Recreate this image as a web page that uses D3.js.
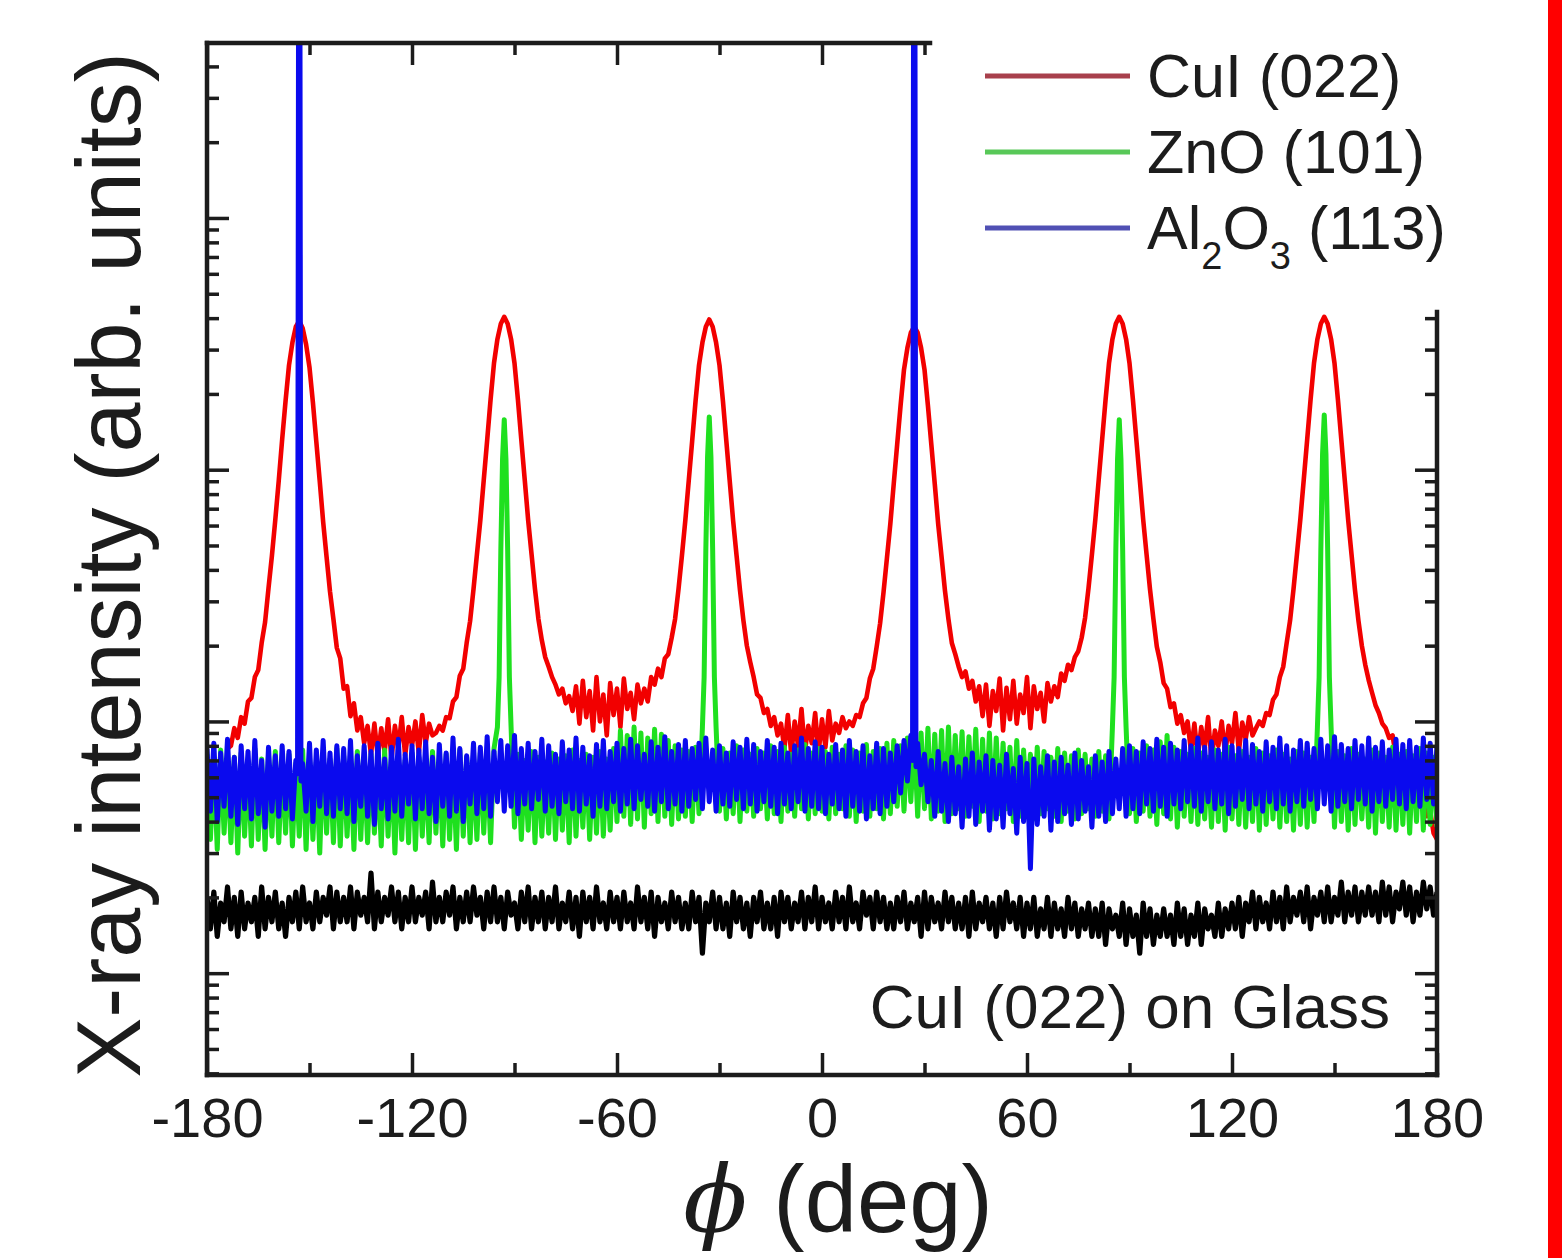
<!DOCTYPE html>
<html>
<head>
<meta charset="utf-8">
<script src="https://cdn.jsdelivr.net/npm/d3@7"></script>
<style>
  body { margin: 0; background: #fff; }
  svg { display: block; font-family: 'Liberation Sans', Arial, sans-serif; }
</style>
</head>
<body>
<svg width="1562" height="1258"></svg>
<script>
// phi scans, 1 deg step, intensities
const phiStart = -180;

// CuI (022) on glass
const glass = [
  20,15,21,14,19,16,22,15,20,14,21,15,19,16,20,14,22,15,20,16,
  21,15,19,14,20,16,21,15,22,16,19,15,21,16,20,17,22,15,21,16,
  20,16,22,15,21,17,20,16,25,15,21,16,20,17,22,16,21,15,20,16,
  22,16,20,17,21,15,23,16,20,16,21,17,22,15,20,16,21,16,22,17,
  20,15,21,16,22,16,20,15,21,17,19,15,21,16,22,15,20,16,21,15,
  20,16,22,15,19,16,21,15,20,14,21,16,20,15,22,16,19,15,21,16,
  20,15,21,16,19,15,22,16,20,15,21,14,20,16,19,15,21,16,20,15,
  19,15,21,16,20,12,19,16,21,15,20,15,19,14,21,16,20,15,19,14,
  20,16,21,15,19,15,20,14,21,16,20,15,19,16,21,15,20,16,22,15,
  20,16,19,15,21,16,20,15,22,16,19,15,21,17,20,15,21,16,20,15,
  19,15,20,16,21,15,19,16,20,14,21,15,20,16,19,15,21,16,20,15,
  19,15,20,14,21,15,19,16,20,15,19,14,20,15,21,16,19,15,20,14,
  19,15,20,14,18,15,20,14,19,15,18,14,20,15,19,14,18,15,19,14,
  18,14,19,13,18,15,17,14,19,13,18,14,17,12,19,14,18,13,17,14,
  18,14,17,13,19,14,18,13,17,14,19,13,18,15,17,14,19,14,18,15,
  19,15,20,14,19,16,21,15,20,16,19,15,21,16,20,15,22,16,20,17,
  21,16,22,15,20,17,21,16,22,16,20,17,23,16,21,17,22,16,21,17,
  22,17,21,16,23,17,22,16,21,18,23,17,22,16,21,17,23,18,22,17,
  21
];

// Al2O3 (113) substrate
const al2o3 = [
  78,44,82,40,75,46,85,42,72,39,80,45,76,41,84,43,70,38,79,44,
  73,42,80,45,76,41,70,1e7,68,44,82,40,77,46,84,43,75,42,80,45,
  78,43,84,40,73,46,80,42,76,39,82,45,71,41,79,44,85,42,74,47,
  80,41,77,45,83,43,72,40,81,46,75,42,86,44,78,40,73,47,82,43,
  79,45,87,42,76,48,84,44,80,46,88,43,78,47,82,45,76,49,85,44,
  80,46,74,43,83,48,77,45,86,44,79,47,73,42,81,46,84,45,76,48,
  82,44,78,47,85,45,80,49,74,46,83,44,79,48,87,45,76,47,81,44,
  84,46,78,49,82,45,86,48,77,44,80,47,75,46,83,49,79,45,85,47,
  81,44,76,48,84,46,79,43,82,47,75,45,80,48,86,44,78,46,83,45,
  79,43,74,47,81,45,77,42,84,46,76,44,80,41,73,45,82,43,78,46,
  75,48,80,52,84,58,88,1e7,82,56,74,48,70,42,76,44,68,40,72,43,
  66,38,71,42,75,39,69,44,73,37,70,41,67,38,74,43,65,36,72,40,
  68,26,71,39,66,42,73,37,69,40,72,43,67,39,75,41,70,44,66,38,
  73,42,69,40,76,43,71,45,78,42,80,45,76,43,83,47,78,44,85,46,
  79,42,82,47,77,45,84,48,80,46,86,44,79,48,83,45,77,47,85,43,
  80,46,78,49,84,45,81,47,76,44,83,48,79,45,86,47,80,44,77,48,
  84,46,82,49,78,45,85,47,80,44,87,46,81,48,78,45,84,49,80,47,
  86,44,79,48,83,46,77,49,85,47,81,45,84,48,79,46,86,49,82,47,
  80
];
// half-degree points beside the two sharp substrate reflections
const al2o3PeakPoints = [[-153.5, 62], [-152.5, 58], [26.5, 70], [27.5, 66]];

// ZnO (101)
const zno = [
  74,34,70,31,77,36,68,33,72,30,75,35,69,32,78,34,71,31,73,35,
  76,33,70,36,74,32,68,35,77,31,72,34,69,30,75,36,71,33,78,32,
  73,35,69,31,76,34,70,33,74,36,68,32,77,35,71,30,73,34,70,33,
  75,31,72,35,68,33,76,36,71,32,74,34,69,31,77,35,72,33,70,34,
  75,36,71,33,78,95,480,1580,480,95,38,74,34,70,37,76,33,72,35,69,
  36,75,34,71,37,73,33,77,35,70,38,74,34,72,36,76,35,71,37,78,
  40,92,42,88,39,95,41,90,38,86,43,93,40,89,42,84,39,80,41,77,
  42,76,40,79,43,95,480,1620,480,95,44,78,41,75,43,80,40,77,44,74,
  42,78,45,75,41,80,43,76,40,79,44,74,42,77,45,81,41,75,43,78,
  44,76,41,79,43,74,45,80,42,77,40,75,44,81,42,76,45,78,41,82,
  43,84,46,80,44,86,48,88,42,90,45,94,41,89,44,92,40,95,43,88,
  45,91,42,87,46,93,40,85,44,90,41,86,43,82,45,79,40,84,42,77,
  44,74,41,79,43,76,45,72,42,78,40,75,44,73,41,77,43,74,45,71,
  42,76,44,73,41,95,480,1580,480,95,43,78,40,75,44,80,42,77,39,83,
  43,88,41,79,38,76,42,74,40,78,39,75,41,72,38,77,40,74,37,79,
  41,73,39,76,38,72,40,78,37,75,39,73,41,77,38,74,40,71,37,76,
  39,75,38,72,40,95,480,1650,480,95,38,76,40,73,37,78,39,74,41,71,
  38,77,36,75,40,72,38,79,37,74,39,76,36,73,40,78,37,75,39,72,
  38
];
// half-degree points on the narrow ZnO peaks
const znoPeakPoints = [
  [-94.5, 150], [-93.5, 1100], [-92.5, 1100], [-91.5, 150],
  [-34.5, 150], [-33.5, 1120], [-32.5, 1120], [-31.5, 150],
  [85.5, 150], [86.5, 1100], [87.5, 1100], [88.5, 150],
  [145.5, 150], [146.5, 1150], [147.5, 1150], [148.5, 150]
];

// CuI (022) on ZnO/Al2O3, starts at -174 deg
const cuiStart = -174;
const cui = [
  78,80,94,86,104,98,120,124,150,160,205,248,338,455,
  635,905,1320,1880,2600,3200,3700,3900,3650,3150,2550,1850,1290,900,620,450,328,255,196,178,
  135,138,105,118,92,104,82,96,74,98,72,94,76,102,71,96,78,104,73,95,
  80,100,75,106,82,98,88,90,96,92,104,103,120,125,152,162,205,250,335,460,
  630,910,1310,1900,2650,3300,3800,4050,3800,3300,2650,1900,1310,910,630,460,335,255,210,180,
  165,150,140,128,135,118,126,110,138,98,145,104,132,92,150,100,128,88,142,106,
  135,95,148,112,130,102,140,118,135,120,150,140,162,150,178,185,215,255,335,455,
  630,905,1300,1880,2600,3200,3700,3950,3700,3200,2600,1880,1300,900,625,455,332,252,200,172,
  150,128,124,108,112,96,104,88,98,78,106,74,100,80,112,76,96,82,108,75,
  102,79,110,84,98,90,104,94,100,96,106,104,118,124,148,162,198,245,325,445,
  610,880,1260,1800,2500,3050,3500,3700,3500,3050,2500,1800,1260,880,610,450,330,255,205,185,
  165,150,158,135,145,120,138,105,140,96,132,110,148,92,136,102,145,98,128,108,
  150,94,138,112,130,100,142,120,138,125,155,145,168,160,180,190,215,258,338,460,
  635,915,1320,1900,2650,3300,3800,4050,3800,3300,2650,1900,1320,915,635,460,335,255,198,172,
  142,135,114,118,98,106,90,100,76,98,72,95,78,104,70,92,80,100,74,96,
  82,108,76,99,85,104,88,94,100,96,108,106,122,128,150,165,205,252,335,460,
  635,912,1315,1900,2650,3300,3800,4050,3800,3300,2650,1900,1315,910,632,458,332,252,200,168,
  146,130,116,108,98,94,86,88,72,66,60,55,62,50,56,46,52,42,44,36,34
];

const phiTicks = [-180, -150, -120, -90, -60, -30, 0, 30, 60, 90, 120, 150, 180];
const phiLabels = [-180, -120, -60, 0, 60, 120, 180];
const yDomain = [3.94, 49550];

const legendItems = [
  { parts: [['CuI (022)', 0]], color: '#a8404c' },
  { parts: [['ZnO (101)', 0]], color: '#58c858' },
  { parts: [['Al', 0], ['2', 1], ['O', 0], ['3', 1], [' (113)', 0]], color: '#5050b4' }
];

const svg = d3.select('svg');
const width = +svg.attr('width');
const height = +svg.attr('height');
const margin = { top: 43, right: 125, bottom: 183, left: 207 };
const innerRight = width - margin.right;
const innerBottom = height - margin.bottom;
const ink = '#1c1c1c';
const font = "'Liberation Sans', Arial, sans-serif";

const x = d3.scaleLinear().domain([-180, 180]).range([margin.left, innerRight]);
const y = d3.scaleLog().domain(yDomain).range([innerBottom, margin.top]);

// legend sits over the top-right corner of the frame
const legendLeft = 930;
const legendBottom = 312;

svg.append('rect')
  .attr('x', 1548).attr('y', 0)
  .attr('width', width - 1548).attr('height', height)
  .attr('fill', '#ff0000');

svg.append('clipPath').attr('id', 'plot-clip')
  .append('rect')
    .attr('x', margin.left).attr('y', margin.top)
    .attr('width', innerRight - margin.left)
    .attr('height', innerBottom - margin.top);

const toPoints = (start, values) => values.map((v, i) => ({ phi: start + i, v }));
const withExtra = (pts, extra) => pts
  .concat(extra.map(([phi, v]) => ({ phi, v })))
  .sort((a, b) => a.phi - b.phi);
const line = d3.line().x(d => x(d.phi)).y(d => y(d.v));

const plotted = [
  { pts: toPoints(phiStart, glass), color: '#000000', w: 5.2 },
  { pts: toPoints(cuiStart, cui), color: '#f20000', w: 4.6 },
  { pts: withExtra(toPoints(phiStart, zno), znoPeakPoints), color: '#1fe01f', w: 5 },
  { pts: withExtra(toPoints(phiStart, al2o3), al2o3PeakPoints), color: '#0a0aee', w: 5 }
];

const dataG = svg.append('g').attr('clip-path', 'url(#plot-clip)');
dataG.selectAll('path').data(plotted)
  .enter().append('path')
    .attr('d', d => line(d.pts))
    .attr('fill', 'none')
    .attr('stroke', d => d.color)
    .attr('stroke-width', d => d.w)
    .attr('stroke-linejoin', 'round');

// ticks: inward, on all four sides
const yTicks = y.ticks();
const isDecade = v => Math.abs(Math.log10(v) - Math.round(Math.log10(v))) < 1e-9;
const yMajor = yTicks.filter(isDecade);
const yMinor = yTicks.filter(v => !isDecade(v));
const xMajor = phiTicks.filter(v => v % 60 === 0);
const xMinor = phiTicks.filter(v => v % 60 !== 0);

const styleTicks = g => {
  g.select('.domain').remove();
  g.selectAll('.tick line').attr('stroke', ink).attr('stroke-width', 3.5);
};

const addAxis = (axisFn, scale, values, len, tr) => svg.append('g')
  .attr('transform', tr)
  .call(axisFn(scale).tickValues(values).tickSize(-len).tickFormat(''))
  .call(styleTicks);

addAxis(d3.axisLeft, y, yMajor, 22, `translate(${margin.left},0)`);
addAxis(d3.axisLeft, y, yMinor, 12, `translate(${margin.left},0)`);
addAxis(d3.axisRight, y, yMajor.filter(v => y(v) >= legendBottom), 22, `translate(${innerRight},0)`);
addAxis(d3.axisRight, y, yMinor.filter(v => y(v) >= legendBottom), 12, `translate(${innerRight},0)`);
addAxis(d3.axisTop, x, xMajor.filter(v => x(v) <= legendLeft), 22, `translate(0,${margin.top})`);
addAxis(d3.axisTop, x, xMinor.filter(v => x(v) <= legendLeft), 12, `translate(0,${margin.top})`);
addAxis(d3.axisBottom, x, xMinor, 12, `translate(0,${innerBottom})`);

svg.append('g')
  .attr('transform', `translate(0,${innerBottom})`)
  .call(d3.axisBottom(x).tickValues(phiLabels).tickSize(-22).tickPadding(22).tickFormat(d => String(d)))
  .call(styleTicks)
  .call(g => g.selectAll('text')
    .attr('font-family', font).attr('font-size', 56).attr('fill', ink));

// frame
const frame = svg.append('g')
  .attr('stroke', ink).attr('stroke-width', 4.5).attr('stroke-linecap', 'square');
frame.append('line')
  .attr('x1', margin.left).attr('y1', margin.top).attr('x2', margin.left).attr('y2', innerBottom);
frame.append('line')
  .attr('x1', margin.left).attr('y1', innerBottom).attr('x2', innerRight).attr('y2', innerBottom);
frame.append('line')
  .attr('x1', margin.left).attr('y1', margin.top).attr('x2', legendLeft).attr('y2', margin.top);
frame.append('line')
  .attr('x1', innerRight).attr('y1', legendBottom).attr('x2', innerRight).attr('y2', innerBottom);

// axis titles
svg.append('text')
  .attr('transform', 'translate(140,565) rotate(-90)')
  .attr('text-anchor', 'middle')
  .attr('font-family', font).attr('font-size', 90).attr('fill', ink)
  .text('X-ray intensity (arb. units)');

const xTitle = svg.append('text')
  .attr('x', 838).attr('y', 1232)
  .attr('text-anchor', 'middle')
  .attr('font-family', font).attr('font-size', 94).attr('fill', ink);
xTitle.append('tspan')
  .attr('font-family', "'DejaVu Serif', serif").attr('font-style', 'italic')
  .text('\u03D5');
xTitle.append('tspan').text(' (deg)');

svg.append('text')
  .attr('x', 1390).attr('y', 1028)
  .attr('text-anchor', 'end')
  .attr('font-family', font).attr('font-size', 62).attr('fill', ink)
  .text('CuI (022) on Glass');

// legend
const legend = svg.append('g').attr('transform', 'translate(985,76)');
const rows = legend.selectAll('g').data(legendItems)
  .enter().append('g')
    .attr('transform', (d, i) => `translate(0,${i * 76})`);
rows.append('line')
  .attr('x1', 0).attr('x2', 145)
  .attr('stroke', d => d.color).attr('stroke-width', 5);
rows.append('text')
  .attr('x', 162).attr('y', 21)
  .attr('font-family', font).attr('font-size', 61).attr('fill', ink)
  .each(function (d) {
    const t = d3.select(this);
    let shifted = 0;
    d.parts.forEach(([s, sub]) => {
      const dy = (sub ? 20 : 0) - shifted;
      shifted = sub ? 20 : 0;
      t.append('tspan')
        .attr('dy', dy)
        .attr('font-size', sub ? 38 : 61)
        .text(s);
    });
  });
</script>
</body>
</html>
